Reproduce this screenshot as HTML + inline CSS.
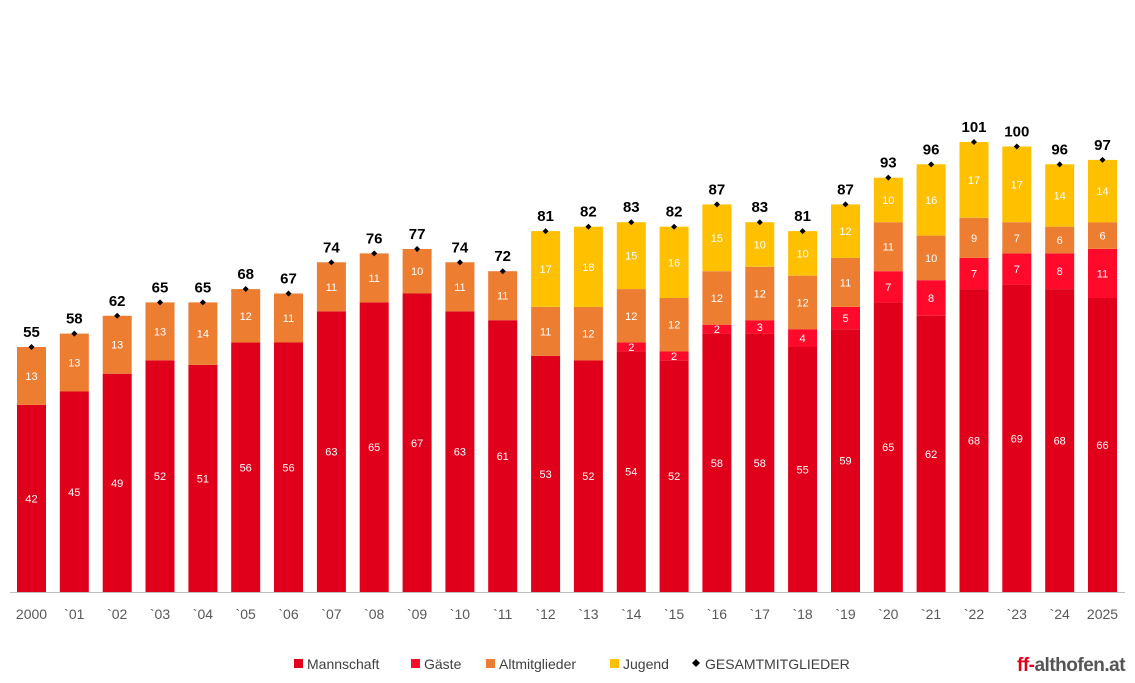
<!DOCTYPE html>
<html><head><meta charset="utf-8"><style>
html,body{margin:0;padding:0;background:#fff;}
svg{display:block;font-family:"Liberation Sans",sans-serif;}
</style></head><body>
<svg id="c" width="1135" height="683" xmlns="http://www.w3.org/2000/svg"></svg>
<script>
var d=[["2000",42,0,13,0],["`01",45,0,13,0],["`02",49,0,13,0],["`03",52,0,13,0],["`04",51,0,14,0],["`05",56,0,12,0],["`06",56,0,11,0],["`07",63,0,11,0],["`08",65,0,11,0],["`09",67,0,10,0],["`10",63,0,11,0],["`11",61,0,11,0],["`12",53,0,11,17],["`13",52,0,12,18],["`14",54,2,12,15],["`15",52,2,12,16],["`16",58,2,12,15],["`17",58,3,12,10],["`18",55,4,12,10],["`19",59,5,11,12],["`20",65,7,11,10],["`21",62,8,10,16],["`22",68,7,9,17],["`23",69,7,7,17],["`24",68,8,6,14],["2025",66,11,6,14]];
var col=["#E0001B","#FF0A2A","#ED7D31","#FFC000"];
var base=592,k=4.455,s="";
s+='<line x1="10" y1="592.5" x2="1125" y2="592.5" stroke="#BFBFBF" stroke-width="1"/>';
d.forEach(function(r,i){
 var x=17+i*42.84,w=29,y=base,t=0;
 for(var j=0;j<4;j++){var v=r[j+1];if(!v)continue;var h=v*k;y-=h;t+=v;
  s+='<rect x="'+x.toFixed(1)+'" y="'+y.toFixed(1)+'" width="'+w+'" height="'+h.toFixed(1)+'" fill="'+col[j]+'"/>';
  s+='<text x="'+(x+w/2).toFixed(1)+'" y="'+(y+h/2+4).toFixed(1)+'" font-size="11" fill="#fff" text-anchor="middle">'+v+'</text>';}
 var cx=x+w/2;
 s+='<path d="M'+cx+' '+(y-3)+'l3 3l-3 3l-3 -3z" fill="#000"/>';
 s+='<text x="'+cx.toFixed(1)+'" y="'+(y-10).toFixed(1)+'" font-size="15" font-weight="bold" fill="#000" text-anchor="middle">'+t+'</text>';
 s+='<text x="'+cx.toFixed(1)+'" y="619" font-size="14" fill="#595959" text-anchor="middle">'+r[0]+'</text>';
});
var lg=[["Mannschaft",col[0],294],["Gäste",col[1],411],["Altmitglieder",col[2],486],["Jugend",col[3],610]];
lg.forEach(function(l){s+='<rect x="'+l[2]+'" y="659" width="9" height="9" fill="'+l[1]+'"/><text x="'+(l[2]+13)+'" y="669" font-size="14" fill="#404040">'+l[0]+'</text>';});
s+='<path d="M696 659l4 4l-4 4l-4 -4z" fill="#000"/><text x="705" y="669" font-size="14" fill="#404040">GESAMTMITGLIEDER</text>';
s+='<text x="1017" y="671" font-size="19" font-weight="bold" letter-spacing="-0.5"><tspan fill="#E0001B">ff-</tspan><tspan fill="#555">althofen.at</tspan></text>';
document.getElementById("c").innerHTML=s;
</script>
</body></html>
